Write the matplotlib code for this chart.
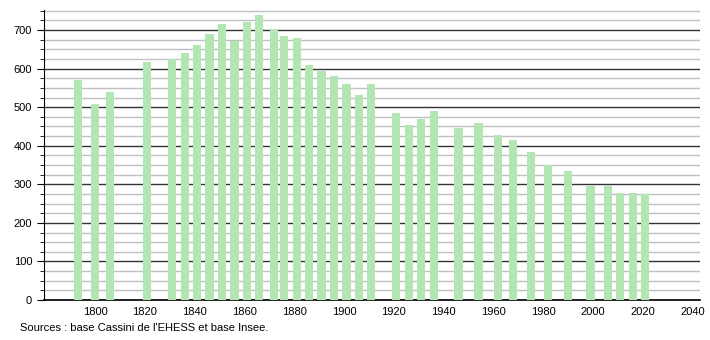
import matplotlib
matplotlib.use("Agg")
import matplotlib.pyplot as plt
from matplotlib.ticker import MultipleLocator

years = [1793, 1800, 1806, 1821, 1831, 1836, 1841, 1846, 1851, 1856, 1861, 1866,
         1872, 1876, 1881, 1886, 1891, 1896, 1901, 1906, 1911, 1921, 1926, 1931,
         1936, 1946, 1954, 1962, 1968, 1975, 1982, 1990, 1999, 2006, 2011, 2016, 2021]
population = [571, 509, 540, 618, 625, 641, 662, 690, 716, 672, 721, 740,
              703, 685, 680, 609, 594, 581, 561, 532, 561, 484, 454, 470,
              490, 447, 459, 428, 416, 385, 350, 335, 296, 296, 278, 278, 275]
x_ticks = [1800, 1820, 1840, 1860, 1880, 1900, 1920, 1940, 1960, 1980, 2000, 2020, 2040]
source_text = "Sources : base Cassini de l'EHESS et base Insee."

plt.rcParams['font.family'] = ['Liberation Sans', 'DejaVu Sans']

fig = plt.figure(figsize=(7.1, 3.4), dpi=100)
ax = fig.add_axes([44/710, 40/340, (700-44)/710, (300-10)/340])

ax.bar(years, population, width=3.3, color='#b3e6b3', zorder=3)

ax.set_xlim(1779.5, 2043)
ax.set_ylim(0, 752)
ax.yaxis.set_major_locator(MultipleLocator(100))
ax.yaxis.set_minor_locator(MultipleLocator(25))
ax.set_xticks(x_ticks)
ax.set_xticklabels([str(t) for t in x_ticks])

ax.grid(axis='y', which='major', color='#333333', linewidth=1.0, zorder=1)
ax.grid(axis='y', which='minor', color='#c0c0c0', linewidth=1.0, zorder=1)
ax.grid(axis='x', visible=False)

for s in ['top', 'right']:
    ax.spines[s].set_visible(False)
ax.spines['left'].set_color('black')
ax.spines['bottom'].set_color('black')
ax.spines['bottom'].set_linewidth(1.2)

ax.tick_params(axis='x', which='both', length=0, labelsize=8, pad=5)
ax.tick_params(axis='y', which='major', length=5, labelsize=8, direction='out')
ax.tick_params(axis='y', which='minor', length=3, direction='out')

fig.text(20/710, 1 - 328/340, source_text, fontsize=8, va='center', ha='left')

fig.savefig("out.png", dpi=100)
